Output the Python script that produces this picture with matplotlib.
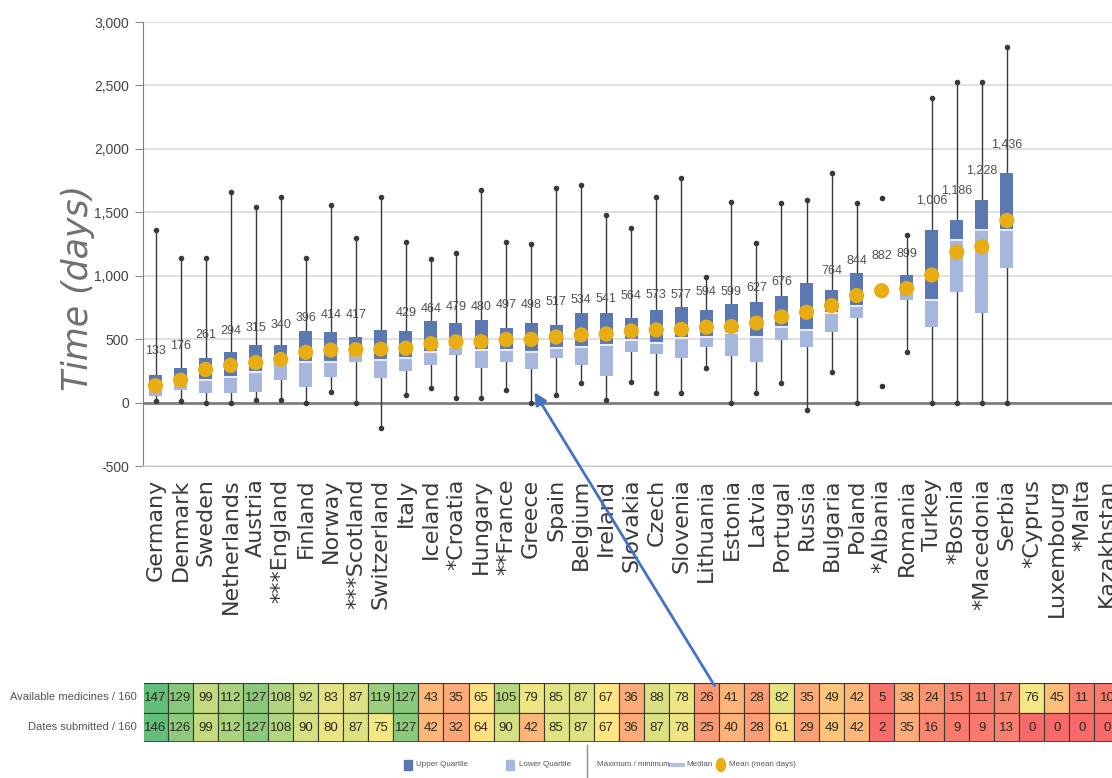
import numpy as np
import matplotlib.pyplot as plt
from matplotlib.colors import LinearSegmentedColormap, TwoSlopeNorm
from matplotlib.patches import Rectangle, FancyArrowPatch, Ellipse
from matplotlib.lines import Line2D

nan = np.nan

countries = ["Germany", "Denmark", "Sweden", "Netherlands", "Austria", "***England",
             "Finland", "Norway", "***Scotland", "Switzerland", "Italy", "Iceland",
             "*Croatia", "Hungary", "**France", "Greece", "Spain", "Belgium", "Ireland",
             "Slovakia", "Czech", "Slovenia", "Lithuania", "Estonia", "Latvia", "Portugal",
             "Russia", "Bulgaria", "Poland", "*Albania", "Romania", "Turkey", "*Bosnia",
             "*Macedonia", "Serbia", "*Cyprus", "Luxembourg", "*Malta", "Kazakhstan"]

# mean time to availability (days); no figures for the last four
mean_days = [133, 176, 261, 294, 315, 340, 396, 414, 417, 421, 429, 464, 479, 480, 497,
             498, 517, 534, 541, 564, 573, 577, 594, 599, 627, 676, 712, 764, 844, 882,
             899, 1006, 1186, 1228, 1436, nan, nan, nan, nan]
no_label = ["Switzerland", "Russia"]

max_days = [1360, 1137, 1137, 1662, 1543, 1622, 1137, 1557, 1294, 1622, 1268, 1129, 1181,
            1675, 1268, 1247, 1688, 1714, 1478, 1373, 1622, 1767, 992, 1583, 1255, 1570,
            1596, 1811, 1575, 1614, 1320, 2397, 2528, 2528, 2804, nan, nan, nan, nan]
upper_q = [215, 270, 349, 402, 454, 454, 564, 559, 520, 572, 564, 643, 630, 651, 585, 630,
           612, 709, 709, 664, 730, 756, 730, 777, 795, 840, 940, 887, 1018, nan, 1005,
           1360, 1438, 1596, 1806, nan, nan, nan, nan]
median_days = [110, 150, 178, 205, 244, 323, 323, 323, 415, 336, 349, 402, 441, 415, 415,
               402, 428, 441, 454, 494, 467, 507, 520, 546, 520, 598, 572, 703, 760, nan,
               887, 808, 1281, 1360, 1360, nan, nan, nan, nan]
lower_q = [55, 100, 79, 79, 87, 178, 121, 205, 323, 192, 252, 297, 375, 270, 323, 262, 349,
           297, 210, 402, 383, 349, 441, 367, 323, 494, 441, 559, 664, nan, 808, 599, 874,
           709, 1058, nan, nan, nan, nan]
min_days = [15, 15, 0, 0, 21, 21, 0, 87, 0, -197, 60, 113, 34, 34, 100, 0, 60, 152, 21, 165,
            79, 79, 270, 0, 79, 152, -58, 244, 0, 134, 402, 0, 0, 0, 0, nan, nan, nan, nan]

available = [147, 129, 99, 112, 127, 108, 92, 83, 87, 119, 127, 43, 35, 65, 105, 79, 85, 87,
             67, 36, 88, 78, 26, 41, 28, 82, 35, 49, 42, 5, 38, 24, 15, 11, 17, 76, 45, 11, 10]
submitted = [146, 126, 99, 112, 127, 108, 90, 80, 87, 75, 127, 42, 32, 64, 90, 42, 85, 87,
             67, 36, 87, 78, 25, 40, 28, 61, 29, 49, 42, 2, 35, 16, 9, 9, 13, 0, 0, 0, 0]
row_names = ["Available medicines / 160", "Dates submitted / 160"]

legend_names = ["Upper Quartile", "Lower Quartile", "Maximum / minimum", "Median",
                "Mean (mean days)"]

DARK = "#5b78b3"
LIGHT = "#a7b6dc"
GOLD = "#e8ad12"

W, H = 1112, 778
fig = plt.figure(figsize=(W / 100, H / 100), dpi=100)
plt.rcParams["font.family"] = ["Liberation Sans", "DejaVu Sans"]

ax = fig.add_axes([143 / W, 1 - 466 / H, 969 / W, 444 / H])
n = len(countries)
x = np.arange(n)
ax.set_xlim(-0.5, 38.2)
ax.set_ylim(-500, 3000)

# grid and zero line
for v in range(-500, 3001, 500):
    ax.axhline(v, color="#dadada", lw=1.2, zorder=0)
ax.axhline(0, color="#7f7f7f", lw=2, zorder=0.5)

for i in range(n):
    if np.isnan(max_days[i]):
        continue
    if np.isnan(upper_q[i]):
        ax.plot([i, i], [min_days[i], max_days[i]], ls="none", marker="o", ms=3,
                color="#333333", zorder=2)
        continue
    ax.plot([i, i], [min_days[i], max_days[i]], color="#3a3a3a", lw=1, marker="o",
            ms=3, zorder=1)
    ax.bar(i, upper_q[i] - median_days[i], bottom=median_days[i], width=0.52,
           color=DARK, zorder=2)
    ax.bar(i, median_days[i] - lower_q[i], bottom=lower_q[i], width=0.52,
           color=LIGHT, zorder=2)
    ax.hlines(median_days[i], i - 0.26, i + 0.26, color="#e6ebf5", lw=1.5, zorder=3)

ax.scatter(x, mean_days, s=120, color=GOLD, edgecolor="none", zorder=4)

# mean labels sit above the dot, or above the box when the box reaches higher
for i, m in enumerate(mean_days):
    if np.isnan(m) or countries[i] in no_label:
        continue
    if not np.isnan(upper_q[i]) and upper_q[i] + 60 > m + 265:
        base, off = upper_q[i], 21
    else:
        base, off = m, 25
    ax.annotate(f"{m:,.0f}", (i, base), xytext=(0, off), textcoords="offset points",
                ha="center", va="center", fontsize=9, color="#505050", zorder=5)

ax.set_yticks(range(-500, 3001, 500))
ax.set_yticklabels([f"{v:,}" for v in range(-500, 3001, 500)], fontsize=10,
                   color="#444444")
ax.tick_params(axis="y", length=6, color="#888888", pad=4)
ax.set_xticks(x)
ax.set_xticklabels(countries, rotation=90, fontsize=16, color="#3a3a3a",
                   family="DejaVu Sans")
ax.tick_params(axis="x", length=0, pad=9)

ax.set_ylabel("Time (days)", fontsize=25, style="italic", color="#707070",
              family="DejaVu Sans")
ax.yaxis.set_label_coords(-0.05, 0.40)

for s in ["top", "right"]:
    ax.spines[s].set_visible(False)
ax.spines["left"].set_color("#808080")
ax.spines["bottom"].set_color("#d0d0d0")

# availability table under the chart
cmap = LinearSegmentedColormap.from_list("rag", ["#f8696b", "#ffeb84", "#63be7b"])
norm = TwoSlopeNorm(vmin=0, vcenter=70, vmax=147)

tab = fig.add_axes([144 / W, 1 - 742 / H, 968 / W, 59 / H])
tab.set_xlim(-0.46, 38.2)
tab.set_ylim(0, 2)
tab.axis("off")
for r, row in enumerate([available, submitted]):
    y0 = 1 - r
    for i, v in enumerate(row):
        tab.add_patch(Rectangle((i - 0.5, y0), 1, 1, facecolor=cmap(norm(v)),
                                edgecolor="#3a3a2a", lw=0.8))
        tab.text(i, y0 + 0.48, str(v), ha="center", va="center", fontsize=9.5,
                 color="#2a2a1a", clip_on=True)
    fig.text(137 / W, 1 - (697 + 30 * r) / H, row_names[r], ha="right", va="center",
             fontsize=8, color="#555555")
tab.plot([-0.5, 38.5], [0, 0], color="#444444", lw=2, clip_on=True)

# legend strip
ly = 1 - 765 / H
fig.add_artist(Rectangle((404 / W, ly - 5 / H), 8 / W, 10 / H, color=DARK,
                         transform=fig.transFigure))
fig.add_artist(Rectangle((506 / W, ly - 5 / H), 8 / W, 10 / H, color=LIGHT,
                         transform=fig.transFigure))
fig.add_artist(Line2D([587 / W, 587 / W], [0, 1 - 745 / H], color="#888888", lw=1,
                      transform=fig.transFigure))
fig.add_artist(Line2D([670 / W, 683 / W], [ly, ly], color="#b4c0dc", lw=3,
                      transform=fig.transFigure))
fig.add_artist(Ellipse((721 / W, ly), 9 / W, 13 / H, color=GOLD,
                       transform=fig.transFigure))
for px, name in zip([416, 519, 597, 686, 729], legend_names):
    fig.text(px / W, ly, name, ha="left", va="center", fontsize=5.8, color="#555555")

# pointer from the table to Greece
fig.add_artist(FancyArrowPatch((716 / W, 1 - 688 / H), (533 / W, 1 - 390 / H),
                               transform=fig.transFigure, arrowstyle="-|>",
                               mutation_scale=18, color="#4472c4", lw=2))

fig.savefig("out.png", dpi=100)
